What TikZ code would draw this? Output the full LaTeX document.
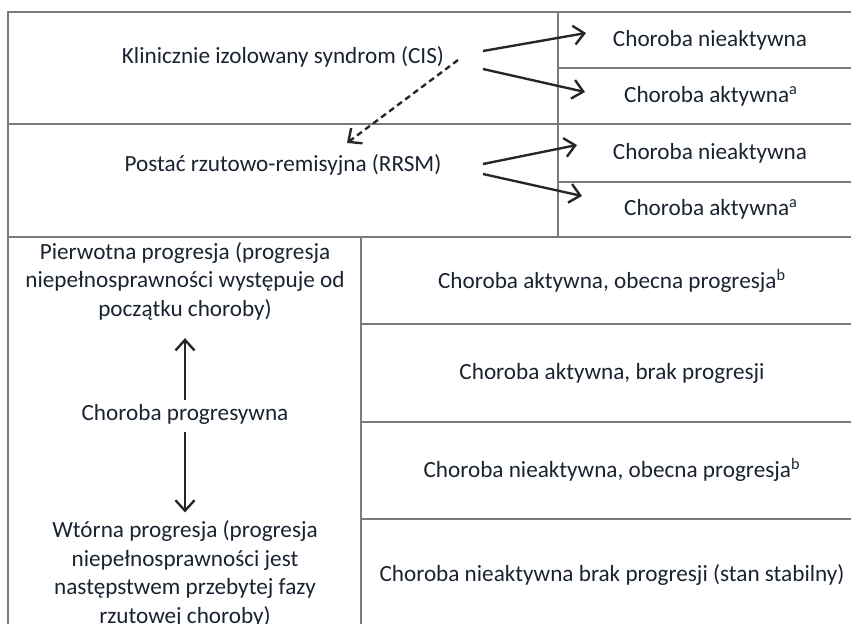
\documentclass[tikz,border=0pt]{standalone}
\usepackage{fontspec}
\setmainfont{Carlito}
\usepackage{xcolor}
\usetikzlibrary{arrows.meta}
\definecolor{inkcol}{HTML}{1A2330}
\definecolor{rulecol}{HTML}{7A7A7A}

\begin{document}
\begin{tikzpicture}[x=0.02cm, y=-0.02cm,
    >={Straight Barb[length=0.21cm,width=0.38cm]}, % Arrow tip style
    rule/.style={draw=rulecol, line width=1pt},
    celltext/.style={font=\fontsize{13.2}{16.2}\selectfont, text=inkcol, align=center, inner sep=0pt},
    arr/.style={->, line width=1.35pt, black!85}]
    % Picture frame, the table runs off the right and bottom edges
    \useasboundingbox (0,0) rectangle (851,623);
    \clip (0,0) rectangle (851,623);

    % Table rules
    \draw[rule] (8,640) -- (8,12) -- (862,12) -- (862,640);
    \draw[rule] (8,124) -- (862,124);
    \draw[rule] (8,237) -- (862,237);
    \draw[rule] (558,12) -- (558,237);
    \draw[rule] (558,68) -- (862,68);
    \draw[rule] (558,182) -- (862,182);
    \draw[rule] (361,237) -- (361,640);
    \draw[rule] (361,324) -- (862,324);
    \draw[rule] (361,422) -- (862,422);
    \draw[rule] (361,519) -- (862,519);

    % Relapsing forms
    \node[celltext] (cis) at (283,57) {Klinicznie izolowany syndrom (CIS)};
    \node[celltext] (rrsm) at (283,165) {Postać rzutowo-remisyjna (RRSM)};
    \node[celltext] (cisNie) at (710,40) {Choroba nieaktywna};
    \node[celltext] (cisAkt) at (711,96) {Choroba aktywna\textsuperscript{a}};
    \node[celltext] (rrsmNie) at (710,153) {Choroba nieaktywna};
    \node[celltext] (rrsmAkt) at (711,209) {Choroba aktywna\textsuperscript{a}};

    % Free ends of the arrows
    \coordinate (cisOutA) at (483,51);
    \coordinate (cisOutB) at (483,69);
    \coordinate (cisDown) at (458,60);
    \coordinate (cisInA) at (586,33);
    \coordinate (cisInB) at (585,92);
    \coordinate (rrsmUp) at (347,143);
    \coordinate (rrsmOutA) at (483,164);
    \coordinate (rrsmOutB) at (483,174);
    \coordinate (rrsmInA) at (577,145);
    \coordinate (rrsmInB) at (582,196);

    \draw[arr] (cisOutA) -- (cisInA);
    \draw[arr] (cisOutB) -- (cisInB);
    \draw[arr, dash pattern=on 0.12cm off 0.08cm] (cisDown) -- (rrsmUp);
    \draw[arr] (rrsmOutA) -- (rrsmInA);
    \draw[arr] (rrsmOutB) -- (rrsmInB);

    % Progressive forms
    \node[celltext] (prim) at (185,281) {Pierwotna progresja (progresja\\niepełnosprawności występuje od\\początku choroby)};
    \node[celltext] (prog) at (185,414) {Choroba progresywna};
    \node[celltext] (sec) at (185,574) {Wtórna progresja (progresja\\niepełnosprawności jest\\następstwem przebytej fazy\\rzutowej choroby)};
    \draw[arr, shorten <=0.07cm, shorten >=0.36cm] (prog) -- (prim);
    \draw[arr, shorten <=0.15cm, shorten >=0.16cm] (prog) -- (sec);

    \node[celltext] (akProg) at (612,281) {Choroba aktywna, obecna progresja\textsuperscript{b}};
    \node[celltext] (akBrak) at (612,373) {Choroba aktywna, brak progresji};
    \node[celltext] (nieProg) at (612,470) {Choroba nieaktywna, obecna progresja\textsuperscript{b}};
    \node[celltext] (nieBrak) at (612,575) {Choroba nieaktywna brak progresji (stan stabilny)};
\end{tikzpicture}
\end{document}
